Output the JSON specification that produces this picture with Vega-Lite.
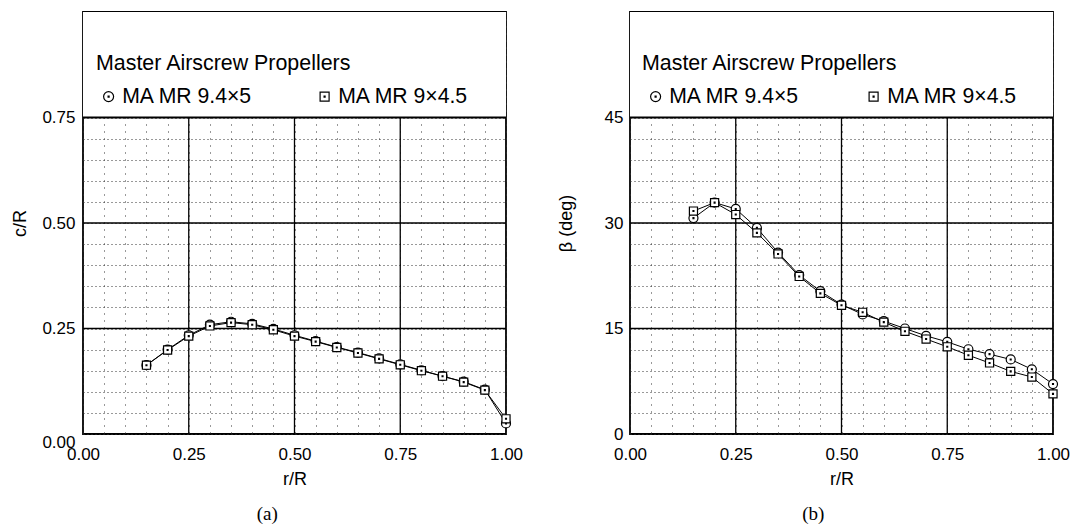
{
  "$schema": "https://vega.github.io/schema/vega-lite/v6.json",
  "background": "white",
  "padding": {"left": 11, "top": 11, "right": 5, "bottom": 0},
  "spacing": 32,
  "datasets": {
    "blade": [
      {"prop": "MA MR 9.4×5", "r": 0.15, "c": 0.163, "beta": 30.7},
      {"prop": "MA MR 9.4×5", "r": 0.20, "c": 0.200, "beta": 32.9},
      {"prop": "MA MR 9.4×5", "r": 0.25, "c": 0.234, "beta": 32.0},
      {"prop": "MA MR 9.4×5", "r": 0.30, "c": 0.259, "beta": 29.3},
      {"prop": "MA MR 9.4×5", "r": 0.35, "c": 0.266, "beta": 25.8},
      {"prop": "MA MR 9.4×5", "r": 0.40, "c": 0.261, "beta": 22.6},
      {"prop": "MA MR 9.4×5", "r": 0.45, "c": 0.249, "beta": 20.3},
      {"prop": "MA MR 9.4×5", "r": 0.50, "c": 0.234, "beta": 18.4},
      {"prop": "MA MR 9.4×5", "r": 0.55, "c": 0.220, "beta": 17.0},
      {"prop": "MA MR 9.4×5", "r": 0.60, "c": 0.206, "beta": 16.05},
      {"prop": "MA MR 9.4×5", "r": 0.65, "c": 0.193, "beta": 15.0},
      {"prop": "MA MR 9.4×5", "r": 0.70, "c": 0.179, "beta": 13.95},
      {"prop": "MA MR 9.4×5", "r": 0.75, "c": 0.165, "beta": 13.1},
      {"prop": "MA MR 9.4×5", "r": 0.80, "c": 0.151, "beta": 12.05},
      {"prop": "MA MR 9.4×5", "r": 0.85, "c": 0.137, "beta": 11.35},
      {"prop": "MA MR 9.4×5", "r": 0.90, "c": 0.124, "beta": 10.6},
      {"prop": "MA MR 9.4×5", "r": 0.95, "c": 0.105, "beta": 9.2},
      {"prop": "MA MR 9.4×5", "r": 1.00, "c": 0.025, "beta": 7.1},
      {"prop": "MA MR 9×4.5", "r": 0.15, "c": 0.163, "beta": 31.7},
      {"prop": "MA MR 9×4.5", "r": 0.20, "c": 0.199, "beta": 32.9},
      {"prop": "MA MR 9×4.5", "r": 0.25, "c": 0.232, "beta": 31.2},
      {"prop": "MA MR 9×4.5", "r": 0.30, "c": 0.256, "beta": 28.6},
      {"prop": "MA MR 9×4.5", "r": 0.35, "c": 0.264, "beta": 25.6},
      {"prop": "MA MR 9×4.5", "r": 0.40, "c": 0.259, "beta": 22.4},
      {"prop": "MA MR 9×4.5", "r": 0.45, "c": 0.247, "beta": 20.0},
      {"prop": "MA MR 9×4.5", "r": 0.50, "c": 0.232, "beta": 18.3},
      {"prop": "MA MR 9×4.5", "r": 0.55, "c": 0.219, "beta": 17.3},
      {"prop": "MA MR 9×4.5", "r": 0.60, "c": 0.205, "beta": 15.9},
      {"prop": "MA MR 9×4.5", "r": 0.65, "c": 0.192, "beta": 14.6},
      {"prop": "MA MR 9×4.5", "r": 0.70, "c": 0.178, "beta": 13.5},
      {"prop": "MA MR 9×4.5", "r": 0.75, "c": 0.164, "beta": 12.4},
      {"prop": "MA MR 9×4.5", "r": 0.80, "c": 0.150, "beta": 11.2},
      {"prop": "MA MR 9×4.5", "r": 0.85, "c": 0.137, "beta": 10.1},
      {"prop": "MA MR 9×4.5", "r": 0.90, "c": 0.123, "beta": 8.9},
      {"prop": "MA MR 9×4.5", "r": 0.95, "c": 0.104, "beta": 8.1},
      {"prop": "MA MR 9×4.5", "r": 1.00, "c": 0.036, "beta": 5.7}
    ]
  },
  "resolve": {"scale": {"shape": "independent"}, "legend": {"shape": "independent"}},
  "hconcat": [
    {
      "width": 423,
      "height": 422,
      "data": {"name": "blade"},
      "title": {"text": "(a)", "orient": "bottom", "anchor": "middle", "frame": "bounds", "font": "Liberation Serif", "fontSize": 19, "fontWeight": "normal", "color": "black", "offset": 17},
      "resolve": {"axis": {"x": "independent", "y": "independent"}},
      "layer": [
        {"data": {"values": [{}]}, "mark": {"type": "rect", "color": "white", "opacity": 1},
          "encoding": {"x": {"datum": 0, "type": "quantitative", "axis": null}, "x2": {"datum": 1}, "y": {"datum": 0.75, "type": "quantitative", "axis": null}, "y2": {"datum": 1}}},
        {"data": {"values": [{}]}, "mark": {"type": "rule", "color": "black", "strokeWidth": 1.3},
          "encoding": {"x": {"datum": 0.25, "type": "quantitative", "axis": null}, "y": {"datum": 0, "type": "quantitative", "axis": null}, "y2": {"datum": 0.75}}},
        {"data": {"values": [{}]}, "mark": {"type": "rule", "color": "black", "strokeWidth": 1.3},
          "encoding": {"x": {"datum": 0.5, "type": "quantitative", "axis": null}, "y": {"datum": 0, "type": "quantitative", "axis": null}, "y2": {"datum": 0.75}}},
        {"data": {"values": [{}]}, "mark": {"type": "rule", "color": "black", "strokeWidth": 1.3},
          "encoding": {"x": {"datum": 0.75, "type": "quantitative", "axis": null}, "y": {"datum": 0, "type": "quantitative", "axis": null}, "y2": {"datum": 0.75}}},
        {"data": {"values": [{}]}, "mark": {"type": "rule", "color": "black", "strokeWidth": 1.3},
          "encoding": {"y": {"datum": 0.25, "type": "quantitative", "axis": null}, "x": {"datum": 0, "type": "quantitative", "axis": null}, "x2": {"datum": 1}}},
        {"data": {"values": [{}]}, "mark": {"type": "rule", "color": "black", "strokeWidth": 1.3},
          "encoding": {"y": {"datum": 0.5, "type": "quantitative", "axis": null}, "x": {"datum": 0, "type": "quantitative", "axis": null}, "x2": {"datum": 1}}},
        {"data": {"values": [{}]}, "mark": {"type": "rule", "color": "black", "strokeWidth": 1.8},
          "encoding": {"y": {"datum": 0.75, "type": "quantitative", "axis": null}, "x": {"datum": 0, "type": "quantitative", "axis": null}, "x2": {"datum": 1}}},
        {"mark": {"type": "line", "color": "black", "strokeWidth": 1},
          "encoding": {
            "x": {"field": "r", "type": "quantitative", "scale": {"domain": [0, 1]},
              "axis": {"title": "r/R", "values": [0,0.05,0.1,0.15,0.2,0.25,0.3,0.35,0.4,0.45,0.5,0.55,0.6,0.65,0.7,0.75,0.8,0.85,0.9,0.95,1],
                "labelExpr": "abs(datum.value*4 - round(datum.value*4)) < 0.001 ? format(datum.value, '.2f') : ''",
                "orient": "bottom", "labelOverlap": false, "labelFlush": false, "grid": true, "gridDash": [1, 6], "labelPadding": 12, "titlePadding": 8}},
            "y": {"field": "c", "type": "quantitative", "scale": {"domain": [0, 1]},
              "axis": {"title": "c/R", "values": [0,0.05,0.1,0.15,0.2,0.25,0.3,0.35,0.4,0.45,0.5,0.55,0.6,0.65,0.7,0.75],
                "labelExpr": "abs(datum.value*4 - round(datum.value*4)) < 0.001 ? format(datum.value, '.2f') : ''",
                "labelBaseline": {"condition": {"test": "datum.value === 0", "value": "top"}, "value": "middle"},
                "orient": "left", "labelOverlap": false, "labelFlush": false, "grid": true, "gridDash": [1, 3], "labelPadding": 8, "titlePadding": 12}},
            "detail": {"field": "prop", "type": "nominal"}}},
        {"mark": {"type": "point", "filled": true, "fill": "white", "stroke": "black", "strokeWidth": 1.2, "size": 81, "opacity": 1},
          "encoding": {
            "x": {"field": "r", "type": "quantitative", "axis": null},
            "y": {"field": "c", "type": "quantitative", "axis": null},
            "shape": {"field": "prop", "type": "nominal",
              "scale": {"domain": ["MA MR 9.4×5", "MA MR 9×4.5"],
                "range": ["M-1,0A1,1,0,1,1,1,0A1,1,0,1,1,-1,0Z M-0.1,-0.1L0.1,-0.1L0.1,0.1L-0.1,0.1Z", "M-0.9,-0.9L0.9,-0.9L0.9,0.9L-0.9,0.9Z M-0.1,-0.1L0.1,-0.1L0.1,0.1L-0.1,0.1Z"]},
              "legend": {"title": "Master Airscrew Propellers", "orient": "none", "legendX": 13, "legendY": 41, "direction": "horizontal",
                "titleFont": "Liberation Sans", "titleFontSize": 21.4, "titleFontWeight": "normal", "titleColor": "black", "titlePadding": 11.5, "titleLimit": 0,
                "labelFont": "Liberation Sans", "labelFontSize": 21.2, "labelColor": "black", "labelLimit": 0, "labelOffset": 3,
                "symbolSize": 100, "symbolStrokeWidth": 1.2, "symbolOffset": 2,
                "columnPadding": 59, "padding": 0}}
          }}
      ]
    },
    {
      "width": 423,
      "height": 422,
      "data": {"name": "blade"},
      "title": {"text": "(b)", "orient": "bottom", "anchor": "middle", "frame": "bounds", "font": "Liberation Serif", "fontSize": 19, "fontWeight": "normal", "color": "black", "offset": 17},
      "resolve": {"axis": {"x": "independent", "y": "independent"}},
      "layer": [
        {"data": {"values": [{}]}, "mark": {"type": "rect", "color": "white", "opacity": 1},
          "encoding": {"x": {"datum": 0, "type": "quantitative", "axis": null}, "x2": {"datum": 1}, "y": {"datum": 45, "type": "quantitative", "axis": null}, "y2": {"datum": 60}}},
        {"data": {"values": [{}]}, "mark": {"type": "rule", "color": "black", "strokeWidth": 1.3},
          "encoding": {"x": {"datum": 0.25, "type": "quantitative", "axis": null}, "y": {"datum": 0, "type": "quantitative", "axis": null}, "y2": {"datum": 45}}},
        {"data": {"values": [{}]}, "mark": {"type": "rule", "color": "black", "strokeWidth": 1.3},
          "encoding": {"x": {"datum": 0.5, "type": "quantitative", "axis": null}, "y": {"datum": 0, "type": "quantitative", "axis": null}, "y2": {"datum": 45}}},
        {"data": {"values": [{}]}, "mark": {"type": "rule", "color": "black", "strokeWidth": 1.3},
          "encoding": {"x": {"datum": 0.75, "type": "quantitative", "axis": null}, "y": {"datum": 0, "type": "quantitative", "axis": null}, "y2": {"datum": 45}}},
        {"data": {"values": [{}]}, "mark": {"type": "rule", "color": "black", "strokeWidth": 1.3},
          "encoding": {"y": {"datum": 15, "type": "quantitative", "axis": null}, "x": {"datum": 0, "type": "quantitative", "axis": null}, "x2": {"datum": 1}}},
        {"data": {"values": [{}]}, "mark": {"type": "rule", "color": "black", "strokeWidth": 1.3},
          "encoding": {"y": {"datum": 30, "type": "quantitative", "axis": null}, "x": {"datum": 0, "type": "quantitative", "axis": null}, "x2": {"datum": 1}}},
        {"data": {"values": [{}]}, "mark": {"type": "rule", "color": "black", "strokeWidth": 1.8},
          "encoding": {"y": {"datum": 45, "type": "quantitative", "axis": null}, "x": {"datum": 0, "type": "quantitative", "axis": null}, "x2": {"datum": 1}}},
        {"mark": {"type": "line", "color": "black", "strokeWidth": 1},
          "encoding": {
            "x": {"field": "r", "type": "quantitative", "scale": {"domain": [0, 1]},
              "axis": {"title": "r/R", "values": [0,0.05,0.1,0.15,0.2,0.25,0.3,0.35,0.4,0.45,0.5,0.55,0.6,0.65,0.7,0.75,0.8,0.85,0.9,0.95,1],
                "labelExpr": "abs(datum.value*4 - round(datum.value*4)) < 0.001 ? format(datum.value, '.2f') : ''",
                "orient": "bottom", "labelOverlap": false, "labelFlush": false, "grid": true, "gridDash": [1, 6], "labelPadding": 12, "titlePadding": 8}},
            "y": {"field": "beta", "type": "quantitative", "scale": {"domain": [0, 60]},
              "axis": {"title": "β (deg)", "values": [0,3,6,9,12,15,18,21,24,27,30,33,36,39,42,45],
                "labelExpr": "datum.value % 15 === 0 ? datum.label : ''",
                "orient": "left", "labelOverlap": false, "labelFlush": false, "grid": true, "gridDash": [1, 3], "labelPadding": 7, "titlePadding": 29}},
            "detail": {"field": "prop", "type": "nominal"}}},
        {"mark": {"type": "point", "filled": true, "fill": "white", "stroke": "black", "strokeWidth": 1.2, "size": 81, "opacity": 1},
          "encoding": {
            "x": {"field": "r", "type": "quantitative", "axis": null},
            "y": {"field": "beta", "type": "quantitative", "axis": null},
            "shape": {"field": "prop", "type": "nominal",
              "scale": {"domain": ["MA MR 9.4×5", "MA MR 9×4.5"],
                "range": ["M-1,0A1,1,0,1,1,1,0A1,1,0,1,1,-1,0Z M-0.1,-0.1L0.1,-0.1L0.1,0.1L-0.1,0.1Z", "M-0.9,-0.9L0.9,-0.9L0.9,0.9L-0.9,0.9Z M-0.1,-0.1L0.1,-0.1L0.1,0.1L-0.1,0.1Z"]},
              "legend": {"title": "Master Airscrew Propellers", "orient": "none", "legendX": 12, "legendY": 41, "direction": "horizontal",
                "titleFont": "Liberation Sans", "titleFontSize": 21.4, "titleFontWeight": "normal", "titleColor": "black", "titlePadding": 11.5, "titleLimit": 0,
                "labelFont": "Liberation Sans", "labelFontSize": 21.2, "labelColor": "black", "labelLimit": 0, "labelOffset": 3,
                "symbolSize": 100, "symbolStrokeWidth": 1.2, "symbolOffset": 3,
                "columnPadding": 60, "padding": 0}}
          }}
      ]
    }
  ],
  "config": {
    "view": {"stroke": "black", "strokeWidth": 1.8},
    "axis": {"labelFont": "Liberation Sans", "titleFont": "Liberation Sans", "labelFontSize": 17, "titleFontSize": 18, "titleFontWeight": "normal",
      "labelColor": "black", "titleColor": "black", "ticks": false, "tickSize": 0, "domain": false,
      "gridColor": "#333333", "gridWidth": 1, "labelOverlap": false, "labelFlush": false, "labelBound": false}
  }
}
